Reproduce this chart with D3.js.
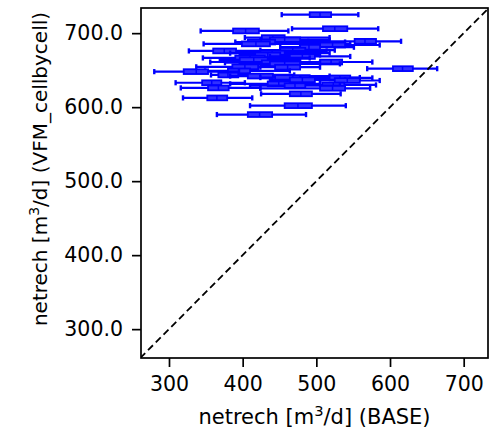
<!DOCTYPE html>
<html>
<head>
<meta charset="utf-8">
<script src="https://cdn.jsdelivr.net/npm/d3@7"></script>
<style>
  html, body { margin: 0; padding: 0; background: #fff; }
  svg { display: block; }
  text { font-family: "DejaVu Sans", sans-serif; fill: #000; }
</style>
</head>
<body>
<svg id="chart" width="489" height="432"></svg>
<script>
// ---- data ----
const yVals   = [725, 706, 703, 694, 691, 689, 688, 685.5, 684, 681, 677, 676, 673, 670.5, 668.5, 666.5, 664, 661, 660, 658.5, 654.5, 654, 652, 649, 648, 643.5, 642, 640, 639.5, 637, 636, 633, 631.5, 630, 629, 626, 625.5, 618, 612.5, 602, 590];
const whiskLo = [453, 467, 343, 403, 424, 489, 390, 347, 478, 451, 424, 327, 383, 396, 437, 346, 369, 356, 376, 396, 337, 424, 569, 349, 280, 357, 383, 424, 478, 437, 505, 309, 383, 464, 410, 316, 424, 425, 319, 410, 365];
const q1      = [491, 509, 387, 426, 437, 552, 407, 399, 505, 478, 451, 360, 424, 417, 464, 390, 396, 505, 426, 437, 386, 444, 604, 380, 320, 367, 407, 444, 518, 464, 525, 345, 434, 508, 457, 353, 505, 464, 352, 457, 407];
const med     = [505, 525, 404, 441, 457, 566, 425, 418, 522, 490, 468, 375, 440, 434, 481, 410, 415, 520, 445, 457, 403, 461, 617, 395, 337, 380, 424, 468, 532, 481, 542, 358, 449, 523, 471, 367, 522, 479, 365, 475, 423];
const q3      = [520, 542, 422, 457, 478, 581, 444, 437, 539, 505, 485, 391, 457, 451, 498, 430, 434, 535, 464, 478, 421, 478, 631, 410, 353, 394, 441, 491, 546, 498, 559, 371, 464, 538, 485, 381, 539, 494, 379, 494, 440];
const whiskHi = [557, 584, 462, 518, 518, 615, 539, 546, 586, 551, 525, 514, 518, 505, 546, 491, 478, 576, 505, 532, 474, 505, 664, 464, 395, 470, 518, 559, 576, 539, 586, 403, 505, 581, 532, 424, 573, 533, 413, 540, 486];
const xTicks = [300, 400, 500, 600, 700];
const yTicks = [300, 400, 500, 600, 700];
const xDomain = [262, 733];
const yDomain = [261, 734];

const items = yVals.map((y, i) => ({y, lo: whiskLo[i], q1: q1[i], med: med[i], q3: q3[i], hi: whiskHi[i]}));

// ---- layout ----
const svg = d3.select("#chart");
const L = 141, R = 488, T = 8, B = 358;
const x = d3.scaleLinear().domain(xDomain).range([L, R]);
const y = d3.scaleLinear().domain(yDomain).range([B, T]);
const blue = "#0000ff";
const fs = 20.5;

svg.append("defs").append("clipPath").attr("id", "clip")
  .append("rect").attr("x", L).attr("y", T).attr("width", R - L).attr("height", B - T);

const plot = svg.append("g").attr("clip-path", "url(#clip)");

// boxplots
const g = plot.selectAll("g.box").data(items).join("g").attr("class", "box");
g.append("line")
  .attr("x1", d => x(d.lo)).attr("x2", d => x(d.hi))
  .attr("y1", d => y(d.y)).attr("y2", d => y(d.y))
  .attr("stroke", blue).attr("stroke-width", 2.2);
g.append("line")
  .attr("x1", d => x(d.lo)).attr("x2", d => x(d.lo))
  .attr("y1", d => y(d.y) - 2.6).attr("y2", d => y(d.y) + 2.6)
  .attr("stroke", blue).attr("stroke-width", 2.4);
g.append("line")
  .attr("x1", d => x(d.hi)).attr("x2", d => x(d.hi))
  .attr("y1", d => y(d.y) - 2.6).attr("y2", d => y(d.y) + 2.6)
  .attr("stroke", blue).attr("stroke-width", 2.4);
g.append("rect")
  .attr("x", d => x(d.q1)).attr("width", d => x(d.q3) - x(d.q1))
  .attr("y", d => y(d.y) - 2.4).attr("height", 4.8)
  .attr("fill", "#3030ff").attr("stroke", blue).attr("stroke-width", 1.8);
g.append("line")
  .attr("x1", d => x(d.med)).attr("x2", d => x(d.med))
  .attr("y1", d => y(d.y) - 2.4).attr("y2", d => y(d.y) + 2.4)
  .attr("stroke", blue).attr("stroke-width", 1.5);

// 1:1 line
plot.append("line")
  .attr("x1", x(Math.min(xDomain[0], yDomain[0]))).attr("y1", y(Math.min(xDomain[0], yDomain[0])))
  .attr("x2", x(Math.max(xDomain[1], yDomain[1]))).attr("y2", y(Math.max(xDomain[1], yDomain[1])))
  .attr("stroke", "#000").attr("stroke-width", 1.8).attr("stroke-dasharray", "7,4");

// axes
const xAxis = svg.append("g").attr("transform", `translate(0,${B})`)
  .call(d3.axisBottom(x).tickValues(xTicks).tickSize(9).tickPadding(9).tickFormat(d3.format("d")));
const yAxis = svg.append("g").attr("transform", `translate(${L},0)`)
  .call(d3.axisLeft(y).tickValues(yTicks).tickSize(9).tickPadding(9).tickFormat(d3.format(".1f")));
[xAxis, yAxis].forEach(a => {
  a.select(".domain").remove();
  a.selectAll(".tick line").attr("stroke", "#000").attr("stroke-width", 1.7);
  a.selectAll(".tick text").attr("font-size", fs).attr("font-family", "DejaVu Sans").attr("fill", "#000");
});

// spines
svg.append("rect").attr("x", L).attr("y", T).attr("width", R - L).attr("height", B - T)
  .attr("fill", "none").attr("stroke", "#000").attr("stroke-width", 1.7);

// labels
const xl = svg.append("text").attr("x", (L + R) / 2).attr("y", 424)
  .attr("text-anchor", "middle").attr("font-size", 21);
xl.append("tspan").text("netrech [m");
xl.append("tspan").attr("baseline-shift", "super").attr("font-size", 21 * 0.7).text("3");
xl.append("tspan").text("/d] (BASE)");

const yl = svg.append("text").attr("transform", `translate(47,169) rotate(-90)`)
  .attr("text-anchor", "middle").attr("font-size", 20);
yl.append("tspan").text("netrech [m");
yl.append("tspan").attr("baseline-shift", "super").attr("font-size", 20 * 0.7).text("3");
yl.append("tspan").text("/d] (VFM_cellbycell)");
</script>
</body>
</html>
